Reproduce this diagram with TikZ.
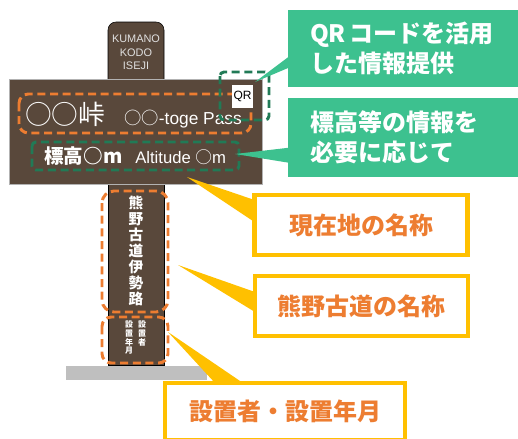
\documentclass[tikz,border=0pt]{standalone}
\usepackage{fontspec}
\setmainfont{Liberation Sans}
\newfontfamily\cjk{Noto Sans CJK JP}
\usetikzlibrary{calc}
\definecolor{signbrown}{RGB}{89,72,59}
\definecolor{markorange}{RGB}{237,125,49}
\definecolor{markgreen}{RGB}{33,122,86}
\definecolor{calloutgreen}{RGB}{61,193,143}
\definecolor{calloutyellow}{RGB}{255,192,0}
\definecolor{basegray}{RGB}{191,191,191}
\tikzset{
  orangemark/.style={draw=markorange, line width=2.2pt, dash pattern=on 6pt off 3.5pt, rounded corners=7pt},
  greenmark/.style={draw=markgreen, line width=2.2pt, dash pattern=on 6pt off 3.5pt, rounded corners=3pt},
  greennote/.style={fill=calloutgreen, text=white, align=left, inner ysep=0pt, inner xsep=16.5pt,
    text width=139.5pt, minimum width=172.5pt, font=\cjk\bfseries\fontsize{18}{22.5}\selectfont},
  yellownote/.style={draw=calloutyellow, line width=3.5pt, fill=white, text=markorange, inner sep=0pt,
    minimum width=159.75pt, minimum height=45pt, font=\cjk\bfseries\fontsize{18}{20}\selectfont},
  signtext/.style={text=white, inner sep=0pt},
}
\begin{document}
\begin{tikzpicture}[x=0.75pt,y=-0.75pt]
                        \useasboundingbox (0,0) rectangle (518,439);%
                        \clip (0,0) rectangle (518,439);%

                        % Drawing top of the post
                        \filldraw [fill=signbrown, draw=black, line width=0.4pt, rounded corners=6pt] (108,90) -- (108,22) -- (164,22) -- (164,90);%
                        \node [text=white!88!black, align=center, inner sep=0pt, font=\fontsize{8.2}{10}\selectfont] (kumano) at (136,52.5) {KUMANO\\KODO\\ISEJI};%

                        % Drawing post and base
                        \fill [basegray] (66,366) rectangle (207,380);%
                        \filldraw [fill=signbrown, draw=black, line width=0.4pt] (108,180) rectangle (164,365);%

                        % Drawing board
                        \filldraw [fill=signbrown, draw=black!30, line width=0.5pt] (9,79) rectangle (262,184);%

                        % Marking place name
                        \node [signtext, anchor=base west, font=\cjk\fontsize{20}{20}\selectfont] (pass) at (25,124) {○○峠};%
                        \node [signtext, anchor=base west, font=\fontsize{13}{13}\selectfont] (passen) at (124,124) {{\cjk ○○}-toge Pass};%
                        \draw [orangemark] (19,94) rectangle (251,133);%

                        % Marking QR code
                        \node [fill=white, text=black, inner sep=0pt, minimum width=15.75pt, minimum height=17.25pt, font=\fontsize{9}{9}\selectfont] (qr) at (242.5,96.5) {QR};%
                        \draw [greenmark] (220,72) rectangle (269,120);%

                        % Marking altitude
                        \node [signtext, anchor=base west, font=\cjk\bfseries\fontsize{14.7}{14.7}\selectfont] (alt) at (44,163) {標高○m};%
                        \node [signtext, anchor=base west, font=\fontsize{12.5}{12.5}\selectfont] (alten) at (135,163.5) {Altitude {\cjk ○}m};%
                        \draw [greenmark] (32,142) rectangle (239,170);%

                        % Marking route name
                        \node [signtext, align=center, font=\cjk\bfseries\fontsize{11}{12}\selectfont] (route) at (136,251) {熊\\野\\古\\道\\伊\\勢\\路};%
                        \draw [orangemark, rounded corners=9pt] (102,191) rectangle (168,312);%

                        % Marking installer and date
                        \node [signtext, anchor=north, align=center, font=\cjk\bfseries\fontsize{6}{6.5}\selectfont] (maker) at (142,321) {設\\置\\者};%
                        \node [signtext, anchor=north, align=center, font=\cjk\bfseries\fontsize{6}{6.5}\selectfont] (date) at (129,321) {設\\置\\年\\月};%
                        \draw [orangemark] (102,317) rectangle (168,363);%

                        % Drawing green notes
                        \node [greennote, minimum height=57.75pt] (qrnote) at (403,48.5) {\mbox{QR\hspace{3pt}コードを活用}\\した情報提供};%
                        \node [greennote, minimum height=59.25pt] (altnote) at (403,137.5) {標高等の情報を\\必要に応じて};%
                        \coordinate (qrtip) at (255,82);%
                        \coordinate (alttip) at (235,154);%
                        \fill [calloutgreen] (qrtip) -- ($(qrnote.north west)+(1,47)$) -- ($(qrnote.north west)+(1,58)$) -- cycle;%
                        \fill [calloutgreen] (alttip) -- ($(altnote.north west)+(1,50)$) -- ($(altnote.north west)+(1,65)$) -- cycle;%

                        % Drawing yellow notes
                        \coordinate (placetip) at (187,177);%
                        \coordinate (routetip) at (178,265);%
                        \coordinate (makertip) at (168,332);%
                        \fill [calloutyellow] (placetip) -- (254.5,200) -- (254.5,222) -- cycle;%
                        \fill [calloutyellow] (routetip) -- (255,292) -- (255,312) -- cycle;%
                        \fill [calloutyellow] (makertip) -- (215,383) -- (243,383) -- cycle;%
                        \node [yellownote] (placenote) at (361,225) {現在地の名称};%
                        \node [yellownote] (routenote) at (361.5,306) {熊野古道の名称};%
                        \node [yellownote, minimum width=180pt, minimum height=42.75pt] (makernote) at (285,411.5) {設置者・設置年月};%
                    \end{tikzpicture}
\end{document}
